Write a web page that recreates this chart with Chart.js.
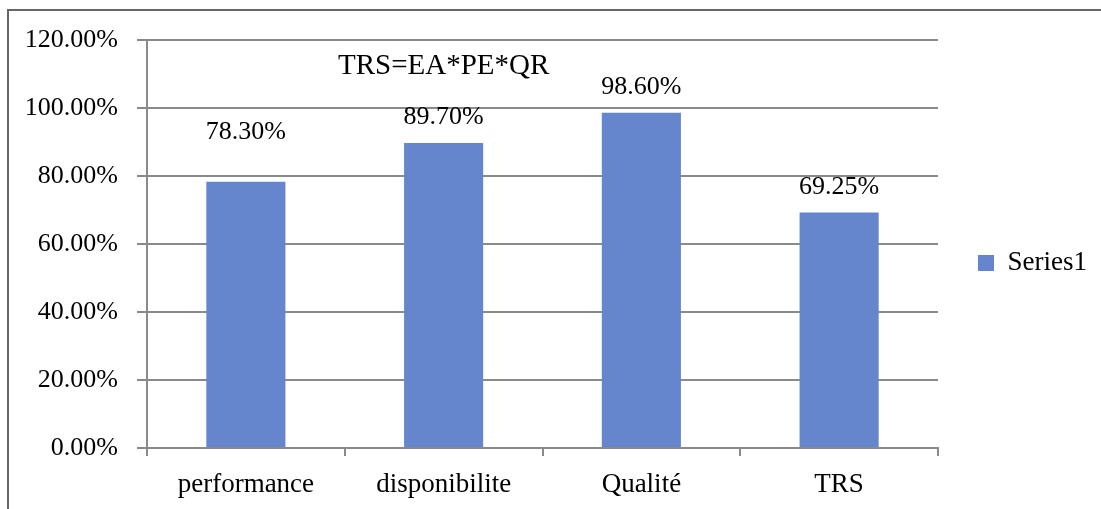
<!DOCTYPE html>
<html>
<head>
<meta charset="utf-8">
<script src="https://cdn.jsdelivr.net/npm/chart.js@4"></script>
<style>
  html, body { margin: 0; padding: 0; background: #ffffff; }
  #wrap { width: 1101px; height: 509px; }
  canvas { display: block; }
</style>
</head>
<body>
<div id="wrap"><canvas id="chart" width="1101" height="509"></canvas></div>
<script>
// Values
const categories = ['performance', 'disponibilite', 'Qualité', 'TRS'];
const seriesName = 'Series1';
const values = [0.783, 0.897, 0.986, 0.6925];
const yTicks = [0, 0.2, 0.4, 0.6, 0.8, 1.0, 1.2];
const formula = 'TRS=EA*PE*QR';

// Layout / style
const FONT = '"Liberation Serif", "Times New Roman", serif';
const BAR_COLOR = '#6585cd';
const GRID_COLOR = '#8a8a8a';
const FRAME_COLOR = '#666666';
const labelRaise = [52, 28, 28, 28];   // distance from bar top to value label centre
const formulaAt = { index: 1, value: 1.1 };

const pct = v => (v * 100).toFixed(2) + '%';

// Outer chart frame (top and left edges)
const framePlugin = {
  id: 'frame',
  beforeDraw(chart) {
    const ctx = chart.ctx;
    ctx.save();
    ctx.strokeStyle = FRAME_COLOR;
    ctx.lineWidth = 2;
    ctx.beginPath();
    ctx.moveTo(chart.width + 2, 10);
    ctx.lineTo(8, 10);
    ctx.lineTo(8, chart.height + 2);
    ctx.stroke();
    ctx.restore();
  }
};

// Fixed legend column width and vertical centring over the whole canvas
const legendPlacement = {
  id: 'legendPlacement',
  beforeLayout(chart) {
    const lg = chart.legend;
    if (lg && !lg._fixedFit) {
      const fit = lg.fit.bind(lg);
      lg.fit = function () { fit(); this.width = 163; };
      lg._fixedFit = true;
    }
  },
  afterLayout(chart) {
    const lg = chart.legend;
    if (lg) { lg.top = 17; lg.bottom = chart.height; }
  }
};

// Value labels above bars and the formula text
const annotations = {
  id: 'annotations',
  afterDatasetsDraw(chart) {
    const ctx = chart.ctx;
    const meta = chart.getDatasetMeta(0);
    ctx.save();
    ctx.fillStyle = '#000000';
    ctx.textAlign = 'center';
    ctx.textBaseline = 'alphabetic';
    ctx.font = '26px ' + FONT;
    meta.data.forEach((bar, i) => {
      ctx.fillText(pct(values[i]), bar.x, bar.y - labelRaise[i] + 9);
    });
    const xs = chart.scales.x, ys = chart.scales.y;
    ctx.font = '29px ' + FONT;
    ctx.fillText(formula, xs.getPixelForValue(formulaAt.index), ys.getPixelForValue(formulaAt.value));
    ctx.restore();
  }
};

new Chart(document.getElementById('chart'), {
  type: 'bar',
  data: {
    labels: categories,
    datasets: [{
      label: seriesName,
      data: values,
      backgroundColor: BAR_COLOR,
      borderWidth: 0,
      barPercentage: 0.4,
      categoryPercentage: 1.0
    }]
  },
  options: {
    responsive: false,
    animation: false,
    devicePixelRatio: 1,
    layout: { padding: { top: 40, left: 0, right: 0, bottom: 0 } },
    plugins: {
      legend: {
        position: 'right',
        align: 'center',
        labels: {
          boxWidth: 16,
          boxHeight: 16,
          padding: 40,
          color: '#000000',
          font: { family: FONT, size: 27 }
        }
      },
      tooltip: { enabled: false },
      title: { display: false }
    },
    scales: {
      x: {
        grid: {
          display: true,
          drawOnChartArea: false,
          drawTicks: true,
          tickLength: 8,
          offset: true,
          color: GRID_COLOR,
          lineWidth: 2
        },
        border: { display: true, color: GRID_COLOR, width: 2 },
        ticks: {
          color: '#000000',
          padding: 13,
          maxRotation: 0,
          autoSkip: false,
          font: { family: FONT, size: 27 }
        },
        afterFit(scale) { scale.height = 61; }
      },
      y: {
        min: yTicks[0],
        max: yTicks[yTicks.length - 1],
        afterBuildTicks(scale) { scale.ticks = yTicks.map(v => ({ value: v })); },
        grid: {
          color: GRID_COLOR,
          lineWidth: 2,
          drawTicks: true,
          tickLength: 10
        },
        border: { display: true, color: GRID_COLOR, width: 2 },
        ticks: {
          color: '#000000',
          padding: 19,
          font: { family: FONT, size: 26 },
          callback: v => pct(v)
        },
        afterFit(scale) { scale.width = 147; }
      }
    }
  },
  plugins: [framePlugin, legendPlacement, annotations]
});
</script>
</body>
</html>
